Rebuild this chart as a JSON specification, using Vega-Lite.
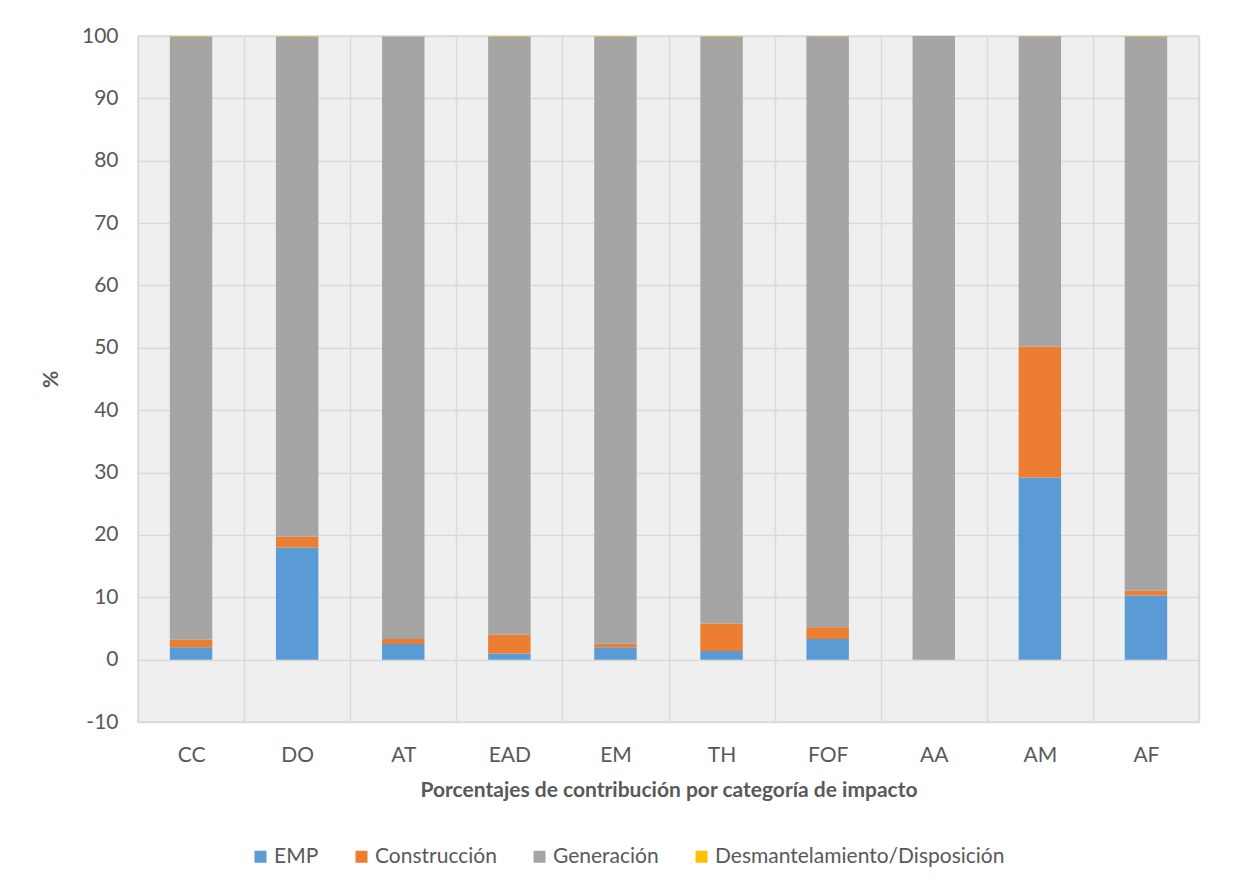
{
  "$schema": "https://vega.github.io/schema/vega-lite/v6.json",
  "autosize": {"type": "none"},
  "width": 1061,
  "height": 686,
  "padding": {"left": 138, "top": 36, "right": 61, "bottom": 171},
  "background": "white",
  "config": {
    "font": "Lato",
    "view": {"fill": "#efefef", "stroke": "#d9d9d9", "strokeWidth": 1.5}
  },
  "data": {
    "values": [
      {"cat": "CC", "fase": "EMP", "o": 1, "v": 2.0},
      {"cat": "CC", "fase": "Construcción", "o": 2, "v": 1.2},
      {"cat": "CC", "fase": "Generación", "o": 3, "v": 96.7},
      {"cat": "CC", "fase": "Desmantelamiento/Disposición", "o": 4, "v": 0.1},
      {"cat": "DO", "fase": "EMP", "o": 1, "v": 18.0},
      {"cat": "DO", "fase": "Construcción", "o": 2, "v": 1.7},
      {"cat": "DO", "fase": "Generación", "o": 3, "v": 80.2},
      {"cat": "DO", "fase": "Desmantelamiento/Disposición", "o": 4, "v": 0.1},
      {"cat": "AT", "fase": "EMP", "o": 1, "v": 2.5},
      {"cat": "AT", "fase": "Construcción", "o": 2, "v": 0.8},
      {"cat": "AT", "fase": "Generación", "o": 3, "v": 96.6},
      {"cat": "AT", "fase": "Desmantelamiento/Disposición", "o": 4, "v": 0.02},
      {"cat": "EAD", "fase": "EMP", "o": 1, "v": 1.0},
      {"cat": "EAD", "fase": "Construcción", "o": 2, "v": 3.0},
      {"cat": "EAD", "fase": "Generación", "o": 3, "v": 95.9},
      {"cat": "EAD", "fase": "Desmantelamiento/Disposición", "o": 4, "v": 0.1},
      {"cat": "EM", "fase": "EMP", "o": 1, "v": 2.0},
      {"cat": "EM", "fase": "Construcción", "o": 2, "v": 0.55},
      {"cat": "EM", "fase": "Generación", "o": 3, "v": 97.37},
      {"cat": "EM", "fase": "Desmantelamiento/Disposición", "o": 4, "v": 0.08},
      {"cat": "TH", "fase": "EMP", "o": 1, "v": 1.4},
      {"cat": "TH", "fase": "Construcción", "o": 2, "v": 4.4},
      {"cat": "TH", "fase": "Generación", "o": 3, "v": 94.1},
      {"cat": "TH", "fase": "Desmantelamiento/Disposición", "o": 4, "v": 0.1},
      {"cat": "FOF", "fase": "EMP", "o": 1, "v": 3.3},
      {"cat": "FOF", "fase": "Construcción", "o": 2, "v": 1.9},
      {"cat": "FOF", "fase": "Generación", "o": 3, "v": 94.77},
      {"cat": "FOF", "fase": "Desmantelamiento/Disposición", "o": 4, "v": 0.03},
      {"cat": "AA", "fase": "EMP", "o": 1, "v": 0.05},
      {"cat": "AA", "fase": "Construcción", "o": 2, "v": 0.02},
      {"cat": "AA", "fase": "Generación", "o": 3, "v": 99.91},
      {"cat": "AA", "fase": "Desmantelamiento/Disposición", "o": 4, "v": 0.02},
      {"cat": "AM", "fase": "EMP", "o": 1, "v": 29.2},
      {"cat": "AM", "fase": "Construcción", "o": 2, "v": 21.0},
      {"cat": "AM", "fase": "Generación", "o": 3, "v": 49.77},
      {"cat": "AM", "fase": "Desmantelamiento/Disposición", "o": 4, "v": 0.03},
      {"cat": "AF", "fase": "EMP", "o": 1, "v": 10.3},
      {"cat": "AF", "fase": "Construcción", "o": 2, "v": 0.8},
      {"cat": "AF", "fase": "Generación", "o": 3, "v": 88.8},
      {"cat": "AF", "fase": "Desmantelamiento/Disposición", "o": 4, "v": 0.1}
    ]
  },
  "mark": {"type": "bar", "width": {"band": 0.4}},
  "encoding": {
    "x": {
      "field": "cat",
      "type": "nominal",
      "sort": ["CC", "DO", "AT", "EAD", "EM", "TH", "FOF", "AA", "AM", "AF"],
      "scale": {"paddingInner": 0, "paddingOuter": 0},
      "axis": {
        "title": "Porcentajes de contribución por categoría de impacto",
        "titleFontSize": 21,
        "titleFontWeight": "bold",
        "titleColor": "#595959",
        "titlePadding": 14,
        "labelAngle": 0,
        "labelFontSize": 21,
        "labelColor": "#595959",
        "labelPadding": 22,
        "ticks": false,
        "domain": false,
        "grid": true,
        "tickBand": "extent",
        "gridColor": "#d9d9d9",
        "gridWidth": 1.5
      }
    },
    "y": {
      "field": "v",
      "type": "quantitative",
      "stack": "zero",
      "scale": {"domain": [-10, 100], "nice": false},
      "axis": {
        "title": "%",
        "titleFontSize": 21,
        "titleFontWeight": "bold",
        "titleColor": "#595959",
        "titlePadding": 20,
        "values": [-10, 0, 10, 20, 30, 40, 50, 60, 70, 80, 90, 100],
        "labelExpr": "datum.value + ''",
        "labelFontSize": 21,
        "labelColor": "#595959",
        "labelPadding": 20,
        "ticks": false,
        "domain": false,
        "gridColor": "#d9d9d9",
        "gridWidth": 1.5
      }
    },
    "color": {
      "field": "fase",
      "type": "nominal",
      "scale": {
        "domain": ["EMP", "Construcción", "Generación", "Desmantelamiento/Disposición"],
        "range": ["#5B9BD5", "#ED7D31", "#A5A5A5", "#FFC000"]
      },
      "legend": {
        "title": null,
        "orient": "none",
        "direction": "horizontal",
        "legendX": 112,
        "legendY": 810,
        "symbolType": "square",
        "symbolSize": 144,
        "symbolStrokeWidth": 0,
        "labelFontSize": 21,
        "labelColor": "#595959",
        "labelLimit": 0,
        "labelOffset": 3,
        "columnPadding": 32
      }
    },
    "order": {"field": "o", "type": "quantitative"}
  }
}
